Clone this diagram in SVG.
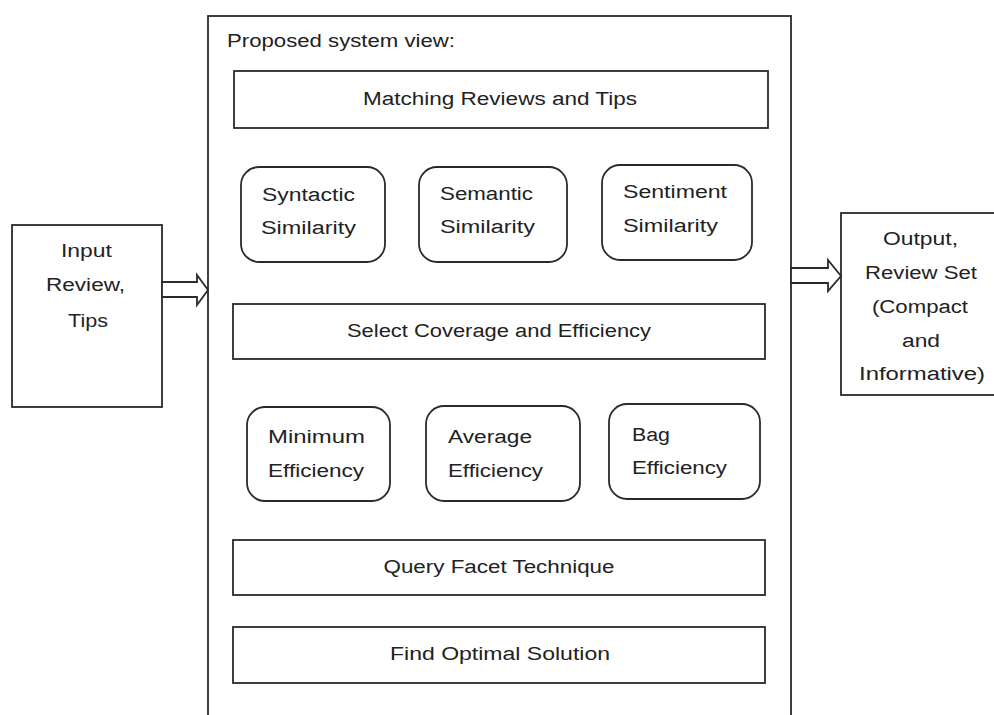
<svg xmlns="http://www.w3.org/2000/svg" width="994" height="715" viewBox="0 0 994 715">
<style>
.box{fill:#fff;stroke:#2a2a2a;stroke-width:1.8}
.arr{fill:#fff;stroke:#2a2a2a;stroke-width:1.8;stroke-linejoin:miter}
text{font-family:"Liberation Sans",Arial,sans-serif;font-size:18px;fill:#222}
.c{text-anchor:middle}
</style>
<rect width="994" height="715" fill="#fff"/>
<g id="system">
<rect class="box" x="208" y="16" width="583" height="720"/>
<text x="227" y="47" textLength="228" lengthAdjust="spacingAndGlyphs">Proposed system view:</text>
</g>
<g id="input">
<rect class="box" x="12" y="225" width="150" height="182"/>
<text x="61" y="257" textLength="51" lengthAdjust="spacingAndGlyphs">Input</text>
<text x="46" y="291" textLength="79" lengthAdjust="spacingAndGlyphs">Review,</text>
<text x="68" y="327" textLength="40" lengthAdjust="spacingAndGlyphs">Tips</text>
</g>
<g id="output">
<rect class="box" x="841" y="213" width="170" height="182"/>
<text x="883" y="245" textLength="75" lengthAdjust="spacingAndGlyphs">Output,</text>
<text x="865" y="279" textLength="112" lengthAdjust="spacingAndGlyphs">Review Set</text>
<text x="872" y="313" textLength="96" lengthAdjust="spacingAndGlyphs">(Compact</text>
<text x="902" y="347" textLength="38" lengthAdjust="spacingAndGlyphs">and</text>
<text x="859" y="380" textLength="126" lengthAdjust="spacingAndGlyphs">Informative)</text>
</g>
<g id="matching">
<rect class="box" x="234" y="71" width="534" height="57"/>
<text class="c" x="500" y="105" textLength="274" lengthAdjust="spacingAndGlyphs">Matching Reviews and Tips</text>
</g>
<g id="syntactic">
<rect class="box" x="241" y="167" width="144" height="95" rx="18"/>
<text x="262" y="201" textLength="93" lengthAdjust="spacingAndGlyphs">Syntactic</text>
<text x="261" y="234" textLength="95" lengthAdjust="spacingAndGlyphs">Similarity</text>
</g>
<g id="semantic">
<rect class="box" x="419" y="167" width="148" height="95" rx="18"/>
<text x="440" y="200" textLength="93" lengthAdjust="spacingAndGlyphs">Semantic</text>
<text x="440" y="233" textLength="95" lengthAdjust="spacingAndGlyphs">Similarity</text>
</g>
<g id="sentiment">
<rect class="box" x="602" y="165" width="150" height="95" rx="18"/>
<text x="623" y="198" textLength="104" lengthAdjust="spacingAndGlyphs">Sentiment</text>
<text x="623" y="232" textLength="95" lengthAdjust="spacingAndGlyphs">Similarity</text>
</g>
<g id="select">
<rect class="box" x="233" y="304" width="532" height="55"/>
<text class="c" x="499" y="337" textLength="304" lengthAdjust="spacingAndGlyphs">Select Coverage and Efficiency</text>
</g>
<g id="minimum">
<rect class="box" x="247" y="407" width="143" height="94" rx="18"/>
<text x="268" y="443" textLength="97" lengthAdjust="spacingAndGlyphs">Minimum</text>
<text x="268" y="477" textLength="96" lengthAdjust="spacingAndGlyphs">Efficiency</text>
</g>
<g id="average">
<rect class="box" x="426" y="406" width="154" height="95" rx="18"/>
<text x="448" y="443" textLength="84" lengthAdjust="spacingAndGlyphs">Average</text>
<text x="448" y="477" textLength="95" lengthAdjust="spacingAndGlyphs">Efficiency</text>
</g>
<g id="bag">
<rect class="box" x="609" y="404" width="151" height="95" rx="18"/>
<text x="632" y="441" textLength="38" lengthAdjust="spacingAndGlyphs">Bag</text>
<text x="632" y="474" textLength="95" lengthAdjust="spacingAndGlyphs">Efficiency</text>
</g>
<g id="query">
<rect class="box" x="233" y="540" width="532" height="55"/>
<text class="c" x="499" y="573" textLength="231" lengthAdjust="spacingAndGlyphs">Query Facet Technique</text>
</g>
<g id="optimal">
<rect class="box" x="233" y="627" width="532" height="56"/>
<text class="c" x="500" y="660" textLength="220" lengthAdjust="spacingAndGlyphs">Find Optimal Solution</text>
</g>
<g id="connectors">
<polygon class="arr" points="162,282 197,282 197,275 208,290 197,305 197,297 162,297"/>
<polygon class="arr" points="791,268 828,268 828,260 841,276 828,291 828,283 791,283"/>
</g>
</svg>
